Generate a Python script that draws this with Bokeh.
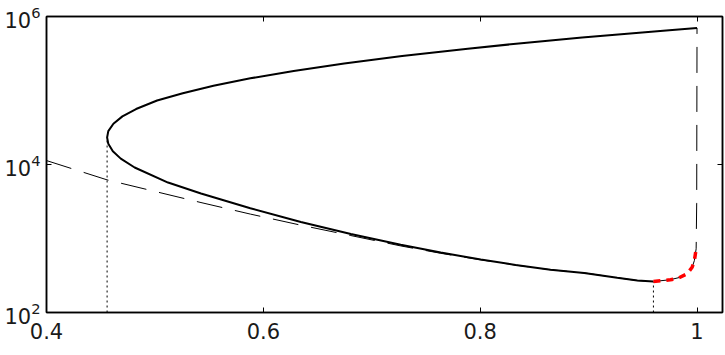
from bokeh.plotting import figure
from bokeh.models import Range1d, FixedTicker, LinearAxis, LogAxis, NumeralTickFormatter
from bokeh.embed import file_html
from bokeh.resources import INLINE

# Solid curve: upper branch from x=1 back to the fold, then lower branch to the minimum
curve_x = [1.0, 0.9744, 0.894, 0.8356, 0.7886, 0.728, 0.6746, 0.628, 0.588, 0.554, 0.5257,
           0.502, 0.4826, 0.470, 0.4617, 0.4570, 0.4559, 0.4570, 0.4612, 0.4685, 0.4813,
           0.5121, 0.5425, 0.588, 0.6346, 0.6807, 0.7267, 0.7636, 0.8005, 0.8327, 0.8649,
           0.8959, 0.9264, 0.945, 0.9598]
curve_y = [7.0e5, 6.53e5, 5.19e5, 4.32e5, 3.67e5, 2.92e5, 2.32e5, 1.84e5, 1.46e5, 1.16e5, 9.2e4,
           7.33e4, 5.62e4, 4.47e4, 3.55e4, 2.82e4, 2.32e4, 1.91e4, 1.51e4, 1.2e4, 9.1e3,
           5.7e3, 4.06e3, 2559, 1675, 1148, 822, 646, 520, 439, 378,
           343, 295, 270, 262]

# Red dashed continuation
red_x = [0.9598, 0.9755, 0.9826, 0.9909, 0.9955, 0.9976, 0.9992]
red_y = [262, 277, 291, 333, 409, 505, 726]

# Dashed approximation
approx_x = [0.4, 0.4559, 0.5425, 0.588, 0.6346, 0.6807, 0.7267, 0.7636, 0.8005, 0.8327, 0.8649,
            0.8959, 0.9264, 0.945, 0.9598, 0.975, 0.985, 0.991, 0.9955, 0.9976, 0.9992, 0.9997, 1.0]
approx_y = [1.13e4, 6.2e3, 3.06e3, 2138, 1514, 1096, 794, 631, 515, 437, 378,
            343, 295, 270, 262, 277, 300, 333, 409, 505, 726, 3000, 7.0e5]

# Dotted markers: fold point and minimum
mark_x = [0.4559, 0.9598]
mark_y = [2.32e4, 262]
y_floor = [100, 100]

x_ticks = [0.4, 0.6, 0.8, 1.0]
y_ticks = [1e2, 1e4, 1e6]

FONT = "DejaVu Sans"
FS = "21px"

p = figure(width=725, height=355, output_backend="svg", toolbar_location=None,
           x_range=Range1d(0.4, 1.0235), y_range=Range1d(1e2, 1e6), y_axis_type="log",
           min_border_left=46, min_border_right=3, min_border_top=16, min_border_bottom=43)
p.grid.visible = False
p.outline_line_color = "black"
p.outline_line_width = 1.5
p.background_fill_color = "white"
p.border_fill_color = "white"

def style(ax, labels=True):
    ax.axis_line_color = "black"
    ax.axis_line_width = 1.5
    ax.major_tick_in = 5
    ax.major_tick_out = 0
    ax.minor_tick_in = 0
    ax.minor_tick_out = 0
    ax.major_tick_line_color = "black"
    ax.major_tick_line_width = 1
    ax.major_label_text_font = FONT
    if labels:
        ax.major_label_text_font_size = FS
        ax.major_label_text_color = "#1a1a1a"
    else:
        ax.major_label_text_font_size = "1px"
        ax.major_label_text_color = None
        ax.major_label_standoff = 0

p.xaxis.ticker = FixedTicker(ticks=x_ticks)
p.xaxis.formatter = NumeralTickFormatter(format="0.[0]")
p.yaxis.ticker = FixedTicker(ticks=y_ticks)
style(p.xaxis[0]); style(p.yaxis[0])
p.xaxis.major_label_standoff = 10
p.yaxis.major_label_standoff = 6

top = LinearAxis(ticker=FixedTicker(ticks=x_ticks))
right = LogAxis(ticker=FixedTicker(ticks=y_ticks))
style(top, False); style(right, False)
p.add_layout(top, "above")
p.add_layout(right, "right")

p.segment(x0=mark_x, y0=y_floor, x1=mark_x, y1=mark_y, line_color="black", line_width=1, line_dash="2 3")
p.line(approx_x, approx_y, line_color="black", line_width=1, line_dash="26 13")
p.line(curve_x, curve_y, line_color="black", line_width=2)
p.line(red_x, red_y, line_color="red", line_width=3.5, line_dash="7 6")

open("out.html", "w").write(file_html(p, INLINE))
